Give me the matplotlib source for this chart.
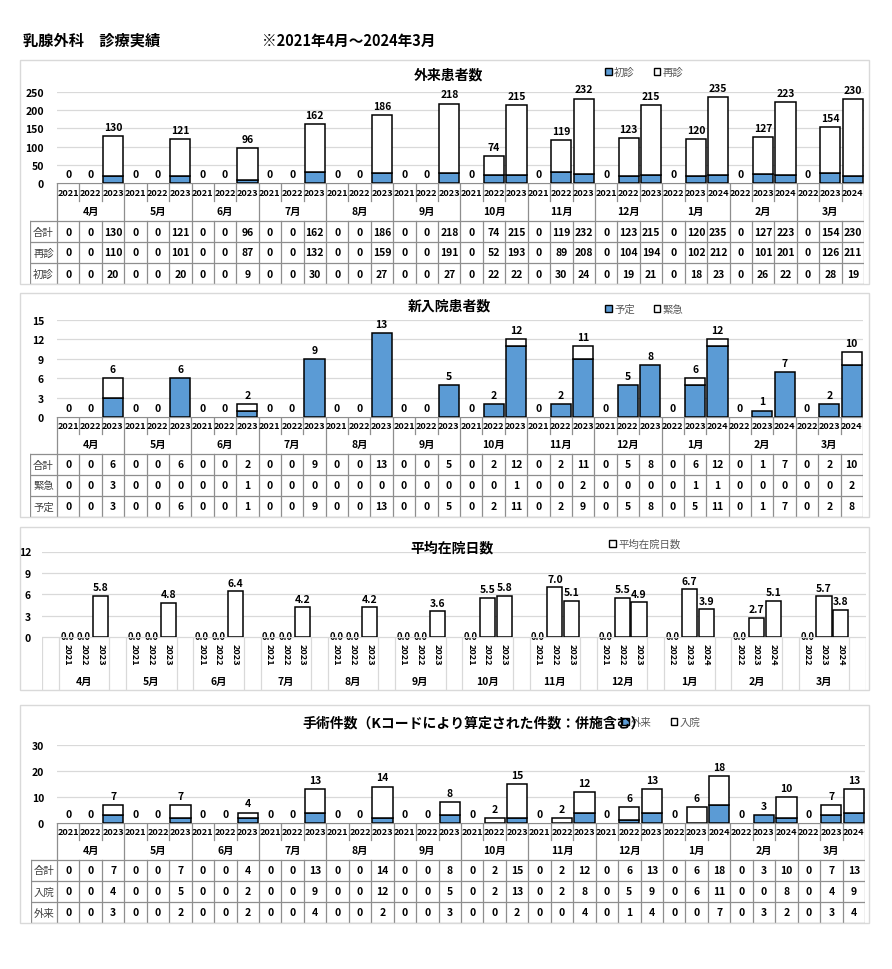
import numpy as np
import matplotlib
matplotlib.use('Agg')
import matplotlib.pyplot as plt
from matplotlib.patches import Rectangle

plt.rcParams['font.family'] = ['Noto Sans CJK JP', 'DejaVu Sans']

W, H = 892, 970
BLUE = '#5b9bd5'
GRID = '#d9d9d9'
LINE = '#8e8e8e'

# categories
months = ['4月', '5月', '6月', '7月', '8月', '9月', '10月', '11月', '12月', '1月', '2月', '3月']
years = ['2021', '2022', '2023'] * 9 + ['2022', '2023', '2024'] * 3

# 外来患者数
gairai_total = [0, 0, 130, 0, 0, 121, 0, 0, 96, 0, 0, 162, 0, 0, 186, 0, 0, 218,
                0, 74, 215, 0, 119, 232, 0, 123, 215, 0, 120, 235, 0, 127, 223, 0, 154, 230]
saishin = [0, 0, 110, 0, 0, 101, 0, 0, 87, 0, 0, 132, 0, 0, 159, 0, 0, 191,
           0, 52, 193, 0, 89, 208, 0, 104, 194, 0, 102, 212, 0, 101, 201, 0, 126, 211]
shoshin = [0, 0, 20, 0, 0, 20, 0, 0, 9, 0, 0, 30, 0, 0, 27, 0, 0, 27,
           0, 22, 22, 0, 30, 24, 0, 19, 21, 0, 18, 23, 0, 26, 22, 0, 28, 19]

# 新入院患者数
nyuin_total = [0, 0, 6, 0, 0, 6, 0, 0, 2, 0, 0, 9, 0, 0, 13, 0, 0, 5,
               0, 2, 12, 0, 2, 11, 0, 5, 8, 0, 6, 12, 0, 1, 7, 0, 2, 10]
kinkyu = [0, 0, 3, 0, 0, 0, 0, 0, 1, 0, 0, 0, 0, 0, 0, 0, 0, 0,
          0, 0, 1, 0, 0, 2, 0, 0, 0, 0, 1, 1, 0, 0, 0, 0, 0, 2]
yotei = [0, 0, 3, 0, 0, 6, 0, 0, 1, 0, 0, 9, 0, 0, 13, 0, 0, 5,
         0, 2, 11, 0, 2, 9, 0, 5, 8, 0, 5, 11, 0, 1, 7, 0, 2, 8]

# 平均在院日数
zaiin = [0.0, 0.0, 5.8, 0.0, 0.0, 4.8, 0.0, 0.0, 6.4, 0.0, 0.0, 4.2, 0.0, 0.0, 4.2, 0.0, 0.0, 3.6,
         0.0, 5.5, 5.8, 0.0, 7.0, 5.1, 0.0, 5.5, 4.9, 0.0, 6.7, 3.9, 0.0, 2.7, 5.1, 0.0, 5.7, 3.8]

# 手術件数
shujutsu_total = [0, 0, 7, 0, 0, 7, 0, 0, 4, 0, 0, 13, 0, 0, 14, 0, 0, 8,
                  0, 2, 15, 0, 2, 12, 0, 6, 13, 0, 6, 18, 0, 3, 10, 0, 7, 13]
shu_nyuin = [0, 0, 4, 0, 0, 5, 0, 0, 2, 0, 0, 9, 0, 0, 12, 0, 0, 5,
             0, 2, 13, 0, 2, 8, 0, 5, 9, 0, 6, 11, 0, 0, 8, 0, 4, 9]
shu_gairai = [0, 0, 3, 0, 0, 2, 0, 0, 2, 0, 0, 4, 0, 0, 2, 0, 0, 3,
              0, 0, 2, 0, 0, 4, 0, 1, 4, 0, 0, 7, 0, 3, 2, 0, 3, 4]

fig = plt.figure(figsize=(W / 100, H / 100), dpi=100)


def add_ax(x0, y0, x1, y1):
    return fig.add_axes([x0 / W, 1 - y1 / H, (x1 - x0) / W, (y1 - y0) / H])


def box(x0, y0, x1, y1):
    fig.add_artist(Rectangle((x0 / W, 1 - y1 / H), (x1 - x0) / W, (y1 - y0) / H,
                             transform=fig.transFigure, fill=False, ec=GRID, lw=1))


def legend(ax, x, y, items):
    handles = [Rectangle((0, 0), 1, 1, fc=c, ec='black', lw=1) for c, _ in items]
    ax.legend(handles, [t for _, t in items], loc='center left',
              bbox_to_anchor=(x / W, 1 - y / H), bbox_transform=fig.transFigure,
              ncol=len(items), frameon=False, fontsize=7.5, labelcolor='#595959',
              handlelength=0.65, handleheight=0.65, handletextpad=0.2,
              columnspacing=1.8, borderpad=0)


def style_ax(ax, ymax, step, pad):
    ax.set_ylim(0, ymax)
    ax.set_yticks(np.arange(0, ymax + 1, step))
    ax.yaxis.grid(True, color=GRID, lw=0.9)
    ax.set_axisbelow(True)
    for s in ax.spines.values():
        s.set_visible(False)
    ax.set_xticks([])
    ax.tick_params(axis='y', length=0, pad=pad, labelsize=7.5)
    for lab in ax.get_yticklabels():
        lab.set_fontweight('bold')


def stacked_panel(plot_px, table_left, rows_px, bottom, top, total, ymax, step,
                  row_names, row_vals):
    x0, y0, x1, y1 = plot_px
    ax = add_ax(x0, y0, x1, y1)
    x = np.arange(len(total))
    b = np.array(bottom)
    t = np.array(top)
    ax.bar(x, b, width=0.9, color=BLUE,
           edgecolor=np.where(b > 0, 'black', 'none'), lw=1.1)
    ax.bar(x, t, bottom=b, width=0.9, color='white',
           edgecolor=np.where(t > 0, 'black', 'none'), lw=1.1)
    ax.set_xlim(-0.5, len(total) - 0.5)
    style_ax(ax, ymax, step, pad=(x0 - 44) * 0.72)
    for i, v in enumerate(total):
        ax.annotate(str(v), (i, v), xytext=(0, 3), textcoords='offset points',
                    ha='center', va='bottom', fontsize=7.5, fontweight='bold',
                    annotation_clip=False)

    # table under the chart
    yr, mr, dr = rows_px
    bot = yr + mr + dr * len(row_names)
    colw = (x1 - x0) / len(total)
    hdr = (x0 - table_left) / colw
    tax = add_ax(table_left, y1, x1, y1 + bot)
    tax.set_xlim(-0.5 - hdr, len(total) - 0.5)
    tax.set_ylim(bot, 0)
    tax.axis('off')
    kw = dict(color=LINE, lw=0.9)
    tax.plot([-0.5, len(total) - 0.5], [0, 0], **kw)
    for i in range(len(total) + 1):
        bx = i - 0.5
        if i % 3 == 0:
            tax.plot([bx, bx], [0, bot], **kw)
        else:
            tax.plot([bx, bx], [0, yr], **kw)
            tax.plot([bx, bx], [yr + mr, bot], **kw)
    tax.plot([-0.5 - hdr] * 2, [yr + mr, bot], **kw)
    for r in range(len(row_names) + 1):
        yy = yr + mr + dr * r
        tax.plot([-0.5 - hdr, len(total) - 0.5], [yy, yy], **kw)
    for i, yl in enumerate(years):
        tax.text(i, yr / 2, yl, ha='center', va='center', fontsize=6.6, fontweight='bold')
    for m, ml in enumerate(months):
        tax.text(3 * m + 1, yr + mr / 2, ml, ha='center', va='center',
                 fontsize=7.5, fontweight='bold')
    for r, (name, vals) in enumerate(zip(row_names, row_vals)):
        yy = yr + mr + dr * (r + 0.5)
        tax.text(-0.5 - hdr / 2, yy, name, ha='center', va='center',
                 fontsize=7.5, color='#404040')
        for i, v in enumerate(vals):
            tax.text(i, yy, str(v), ha='center', va='center',
                     fontsize=7.5, fontweight='bold')
    return ax


# header
fig.text(23 / W, 1 - 41 / H, '乳腺外科　診療実績', ha='left', va='center',
         fontsize=11, fontweight='bold')
fig.text(262 / W, 1 - 41 / H, '※2021年4月～2024年3月', ha='left', va='center',
         fontsize=10.5, fontweight='bold')

# panel 1: 外来患者数
box(20, 61, 869, 285)
ax1 = stacked_panel((57, 93, 864, 184), 30, (18, 20, 21), shoshin, saishin, gairai_total,
                    250, 50, ['合計', '再診', '初診'], [gairai_total, saishin, shoshin])
fig.text(448 / W, 1 - 76 / H, '外来患者数', ha='center', va='center',
         fontsize=10, fontweight='bold')
legend(ax1, 600, 73, [(BLUE, '初診'), ('white', '再診')])

# panel 2: 新入院患者数
box(20, 294, 869, 518)
ax2 = stacked_panel((57, 321, 863, 418), 30, (17, 20, 21), yotei, kinkyu, nyuin_total,
                    15, 3, ['合計', '緊急', '予定'], [nyuin_total, kinkyu, yotei])
fig.text(449 / W, 1 - 307 / H, '新入院患者数', ha='center', va='center',
         fontsize=10, fontweight='bold')
legend(ax2, 600, 310, [(BLUE, '予定'), ('white', '緊急')])

# panel 3: 平均在院日数 (blank slot between months)
box(20, 528, 869, 691)
ax3 = add_ax(42, 552.5, 866, 638)
slots = np.array([4 * (i // 3) + 1 + i % 3 for i in range(len(zaiin))])
z = np.array(zaiin)
ax3.bar(slots, z, width=0.9, color='white',
        edgecolor=np.where(z > 0, 'black', 'none'), lw=1.1)
ax3.set_xlim(-0.5, 48.5)
style_ax(ax3, 12, 3, pad=8)
for s, v in zip(slots, zaiin):
    if v > 0:
        ax3.annotate(f'{v:.1f}', (s, v), xytext=(0, 2.5), textcoords='offset points',
                     ha='center', va='bottom', fontsize=7.5, fontweight='bold',
                     annotation_clip=False)
    else:
        # zero labels sit on the baseline
        ax3.annotate(f'{v:.1f}', (s, v), xytext=(0, 1), textcoords='offset points',
                     ha='center', va='center', fontsize=6.8,
                     fontweight='bold', annotation_clip=False)
lax = add_ax(42, 638, 866, 691)
lax.set_xlim(-0.5, 48.5)
lax.set_ylim(53, 0)
lax.axis('off')
for m in range(13):
    for bx in (4 * m - 0.5, 4 * m + 0.5):
        lax.plot([bx, bx], [0, 53], color=GRID, lw=0.9)
lax.plot([-0.5, 48.5], [0, 0], color=GRID, lw=0.9)
for s, yl in zip(slots, years):
    lax.text(s, 6.5, yl, rotation=-90, ha='center', va='top', fontsize=6.6, fontweight='bold')
for m, ml in enumerate(months):
    lax.text(4 * m + 2, 44, ml, ha='center', va='center', fontsize=7.5, fontweight='bold')
fig.text(452 / W, 1 - 548 / H, '平均在院日数', ha='center', va='center',
         fontsize=10, fontweight='bold')
legend(ax3, 604, 545, [('white', '平均在院日数')])

# panel 4: 手術件数
box(20, 706, 869, 924)
ax4 = stacked_panel((57, 746, 865, 824), 31, (17, 20, 21), shu_gairai, shu_nyuin,
                    shujutsu_total, 30, 10, ['合計', '入院', '外来'],
                    [shujutsu_total, shu_nyuin, shu_gairai])
fig.text(302 / W, 1 - 724 / H, '手術件数（Kコードにより算定された件数：併施含む）',
         ha='left', va='center', fontsize=10, fontweight='bold')
legend(ax4, 617, 723, [(BLUE, '外来'), ('white', '入院')])

fig.savefig('out.png', dpi=100)
